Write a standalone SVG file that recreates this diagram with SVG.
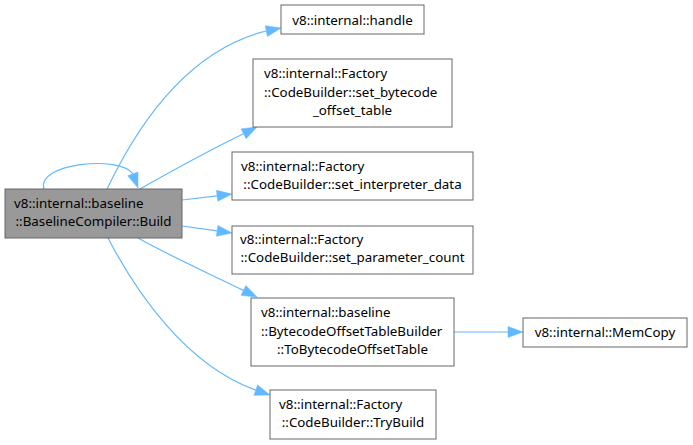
<svg xmlns="http://www.w3.org/2000/svg" width="693" height="445" viewBox="0 0 693 445">
<defs>
<style>
.node rect{fill:#ffffff;stroke:#666666;stroke-width:1}
.node.main rect{fill:#999999}
.node text{font-family:"Noto Sans","DejaVu Sans",sans-serif;font-size:13.33px;fill:#000000}
.edge{fill:none;stroke:#63b8ff;stroke-width:1.2}
.head{fill:#63b8ff;stroke:#63b8ff;stroke-width:0.5}
.m{text-anchor:middle}
</style>
<path id="ah" d="M0,0 L-15,-5.5 L-15,5.5 Z"/>
</defs>
<rect width="693" height="445" fill="#ffffff"/>
<g id="connectors">
<path class="edge" d="M44,189 C36,163 120,155 133,174"/>
<use class="head" href="#ah" transform="translate(138,188) rotate(70)"/>
<path class="edge" d="M107,189 C140,120 190,50 266,31"/>
<use class="head" href="#ah" transform="translate(281,28) rotate(-12)"/>
<path class="edge" d="M140,189 C170,172 210,150 243.6,133.8"/>
<use class="head" href="#ah" transform="translate(257,127) rotate(-27)"/>
<path class="edge" d="M182,200 L217.1,195.8"/>
<use class="head" href="#ah" transform="translate(232,194) rotate(-6.8)"/>
<path class="edge" d="M182,226 L217.1,230.9"/>
<use class="head" href="#ah" transform="translate(232,233) rotate(8)"/>
<path class="edge" d="M138,238 C170,256 210,274 243.5,290.4"/>
<use class="head" href="#ah" transform="translate(257,297) rotate(26)"/>
<path class="edge" d="M108,238 C135,290 185,365 255.8,390.1"/>
<use class="head" href="#ah" transform="translate(270,395) rotate(19)"/>
<path class="edge" d="M454,332 L508,332"/>
<use class="head" href="#ah" transform="translate(523,332)"/>
</g>
<g id="node-build" class="node main">
<rect x="5" y="189" width="177" height="49"/>
<text x="14" y="207.5">v8::internal::baseline</text>
<text class="m" x="93.5" y="225.5">::BaselineCompiler::Build</text>
</g>
<g id="node-handle" class="node">
<rect x="281" y="5" width="143" height="29"/>
<text class="m" x="352.5" y="24.5">v8::internal::handle</text>
</g>
<g id="node-set-bytecode-offset-table" class="node">
<rect x="253" y="59" width="199" height="68"/>
<text x="264" y="78">v8::internal::Factory</text>
<text x="264" y="96.5">::CodeBuilder::set_bytecode</text>
<text class="m" x="352.5" y="115">_offset_table</text>
</g>
<g id="node-set-interpreter-data" class="node">
<rect x="232" y="152" width="241" height="48"/>
<text x="241" y="171">v8::internal::Factory</text>
<text class="m" x="352.5" y="189">::CodeBuilder::set_interpreter_data</text>
</g>
<g id="node-set-parameter-count" class="node">
<rect x="232" y="226" width="241" height="48"/>
<text x="240" y="244">v8::internal::Factory</text>
<text class="m" x="352.5" y="262">::CodeBuilder::set_parameter_count</text>
</g>
<g id="node-to-bytecode-offset-table" class="node">
<rect x="251" y="298" width="203" height="68"/>
<text x="261" y="317">v8::internal::baseline</text>
<text x="261" y="335.5">::BytecodeOffsetTableBuilder</text>
<text class="m" x="352.5" y="354">::ToBytecodeOffsetTable</text>
</g>
<g id="node-memcopy" class="node">
<rect x="523" y="318" width="164" height="29"/>
<text class="m" x="605" y="337">v8::internal::MemCopy</text>
</g>
<g id="node-trybuild" class="node">
<rect x="270" y="390" width="166" height="49"/>
<text x="279" y="409">v8::internal::Factory</text>
<text class="m" x="353" y="427">::CodeBuilder::TryBuild</text>
</g>
</svg>
